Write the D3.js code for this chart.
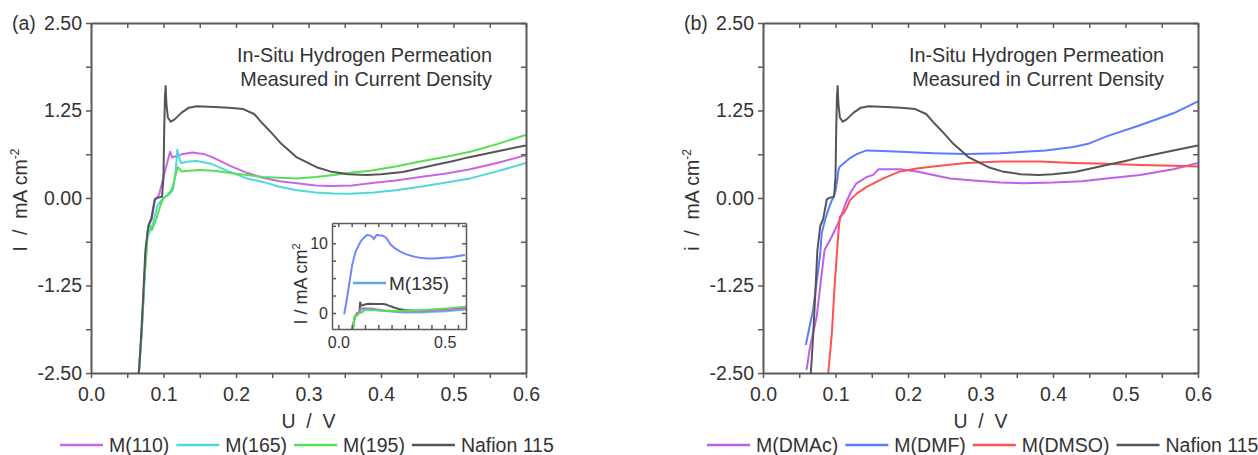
<!DOCTYPE html>
<html>
<head>
<meta charset="utf-8">
<script src="https://cdn.jsdelivr.net/npm/d3@7"></script>
<style>
  body { margin: 0; background: #fff; }
  svg text { font-family: "Liberation Sans", Arial, sans-serif; fill: #333; }
</style>
</head>
<body>
<div id="chart"></div>
<script>
// ---- data ----
const xTickValues = [0, 0.1, 0.2, 0.3, 0.4, 0.5, 0.6];
const xTickLabels = ["0.0", "0.1", "0.2", "0.3", "0.4", "0.5", "0.6"];
const yTickValues = [-2.5, -1.25, 0, 1.25, 2.5];
const yTickLabels = ["-2.50", "-1.25", "0.00", "1.25", "2.50"];
const insetXTickValues = [0, 0.5];
const insetXTickLabels = ["0.0", "0.5"];
const insetYTickValues = [0, 10];
const insetYTickLabels = ["0", "10"];

const nafion115 = [[0.066,-2.5],[0.069,-2.0],[0.072,-1.4],[0.075,-0.75],[0.079,-0.4],[0.083,-0.3],[0.088,-0.02],
  [0.091,0.0],[0.098,0.02],[0.100,0.3],[0.101,1.0],[0.102,1.45],[0.103,1.6],[0.104,1.35],[0.106,1.15],[0.110,1.09],
  [0.115,1.12],[0.125,1.22],[0.135,1.29],[0.146,1.31],[0.17,1.30],[0.19,1.29],[0.21,1.27],[0.225,1.2],[0.237,1.06],
  [0.25,0.92],[0.261,0.79],[0.284,0.58],[0.311,0.44],[0.33,0.38],[0.355,0.34],[0.38,0.33],[0.40,0.34],[0.43,0.37],
  [0.474,0.47],[0.5,0.53],[0.52,0.58],[0.566,0.68],[0.6,0.75]];

const m110 = [[0.066,-2.5],[0.070,-1.9],[0.074,-1.1],[0.078,-0.5],[0.080,-0.38],[0.084,-0.3],[0.088,-0.03],
  [0.094,0.05],[0.100,0.30],[0.105,0.50],[0.109,0.66],[0.112,0.58],[0.118,0.60],[0.127,0.63],[0.140,0.65],
  [0.155,0.63],[0.168,0.58],[0.192,0.46],[0.215,0.36],[0.237,0.29],[0.26,0.24],[0.284,0.21],[0.31,0.18],
  [0.33,0.17],[0.36,0.18],[0.385,0.21],[0.42,0.25],[0.454,0.30],[0.49,0.35],[0.523,0.41],[0.56,0.50],[0.60,0.61]];

const m165 = [[0.066,-2.5],[0.070,-1.9],[0.074,-1.1],[0.078,-0.55],[0.082,-0.45],[0.086,-0.35],[0.092,-0.1],
  [0.100,0.0],[0.108,0.05],[0.113,0.12],[0.117,0.4],[0.119,0.69],[0.121,0.6],[0.124,0.5],[0.135,0.52],[0.146,0.53],
  [0.165,0.49],[0.19,0.38],[0.215,0.28],[0.237,0.23],[0.26,0.16],[0.284,0.11],[0.31,0.08],[0.335,0.065],
  [0.357,0.06],[0.39,0.08],[0.42,0.11],[0.454,0.16],[0.49,0.22],[0.523,0.28],[0.56,0.38],[0.60,0.50]];

const m195 = [[0.066,-2.5],[0.070,-1.9],[0.074,-1.1],[0.078,-0.5],[0.080,-0.38],[0.084,-0.46],[0.090,-0.3],
  [0.096,-0.1],[0.100,0.0],[0.106,0.05],[0.110,0.1],[0.113,0.16],[0.116,0.3],[0.120,0.44],[0.125,0.38],[0.135,0.39],
  [0.15,0.40],[0.17,0.39],[0.19,0.36],[0.215,0.33],[0.237,0.30],[0.26,0.29],[0.284,0.28],[0.31,0.30],[0.335,0.33],
  [0.357,0.36],[0.385,0.39],[0.42,0.45],[0.454,0.52],[0.49,0.59],[0.523,0.66],[0.56,0.77],[0.60,0.90]];

const m135 = [[0.027,-0.2],[0.04,2.0],[0.05,4.0],[0.065,6.9],[0.081,8.8],[0.104,10.2],[0.12,10.8],[0.136,11.2],
  [0.15,11.1],[0.159,10.9],[0.167,10.6],[0.175,11.0],[0.182,11.2],[0.195,11.1],[0.206,11.1],[0.22,10.9],[0.229,10.6],
  [0.245,9.8],[0.265,9.3],[0.291,8.8],[0.32,8.4],[0.354,8.1],[0.385,7.9],[0.416,7.8],[0.45,7.8],[0.494,7.9],
  [0.53,8.0],[0.572,8.2],[0.595,8.3]];

const mDMAc = [[0.060,-2.46],[0.065,-2.12],[0.074,-1.7],[0.081,-1.08],[0.085,-0.74],[0.095,-0.55],[0.106,-0.31],
  [0.115,-0.05],[0.122,0.1],[0.129,0.21],[0.143,0.30],[0.152,0.33],[0.159,0.41],[0.189,0.41],[0.212,0.38],
  [0.235,0.33],[0.258,0.28],[0.29,0.25],[0.327,0.22],[0.36,0.21],[0.40,0.22],[0.44,0.24],[0.474,0.28],[0.52,0.33],
  [0.566,0.41],[0.60,0.50]];

const mDMF = [[0.059,-2.1],[0.064,-1.85],[0.069,-1.6],[0.074,-1.2],[0.079,-0.79],[0.081,-0.5],[0.086,-0.3],
  [0.090,-0.17],[0.095,-0.03],[0.097,0.0],[0.100,0.1],[0.103,0.3],[0.104,0.4],[0.106,0.45],[0.112,0.5],[0.120,0.57],
  [0.13,0.63],[0.143,0.68],[0.165,0.67],[0.189,0.66],[0.235,0.64],[0.281,0.63],[0.327,0.64],[0.36,0.66],[0.39,0.68],
  [0.428,0.73],[0.45,0.78],[0.474,0.88],[0.52,1.04],[0.566,1.21],[0.60,1.38]];

const mDMSO = [[0.090,-2.5],[0.095,-1.93],[0.099,-1.22],[0.104,-0.5],[0.106,-0.27],[0.111,-0.22],[0.115,-0.15],
  [0.120,-0.03],[0.13,0.07],[0.143,0.16],[0.166,0.28],[0.189,0.38],[0.212,0.42],[0.235,0.45],[0.26,0.48],
  [0.281,0.50],[0.327,0.52],[0.382,0.52],[0.428,0.50],[0.474,0.49],[0.52,0.47],[0.566,0.46],[0.60,0.45]];

const seriesA = [
  { name: "M(110)", color: "#c866ea", values: m110 },
  { name: "M(165)", color: "#4fd8dc", values: m165 },
  { name: "M(195)", color: "#55e055", values: m195 },
  { name: "Nafion 115", color: "#555555", values: nafion115 }
];
const seriesB = [
  { name: "M(DMAc)", color: "#c060ea", values: mDMAc },
  { name: "M(DMF)", color: "#5c7dff", values: mDMF },
  { name: "M(DMSO)", color: "#ff5252", values: mDMSO },
  { name: "Nafion 115", color: "#555555", values: nafion115 }
];

// ---- layout ----
const W = 1258, H = 455;
const plotTop = 23, plotBottom = 373, plotW = 435;
const axisColor = "#5a5a5a";

const svg = d3.select("#chart").append("svg")
  .attr("width", W)
  .attr("height", H);

function styleAxis(g) {
  g.select(".domain").attr("stroke", axisColor).attr("stroke-width", 2);
  g.selectAll(".tick line").attr("stroke", axisColor).attr("stroke-width", 1.5);
  g.selectAll(".tick text").attr("fill", "#333");
}

function drawPanel(p) {
  const x = d3.scaleLinear().domain([0, 0.6]).range([p.left, p.left + plotW]);
  const y = d3.scaleLinear().domain([-2.5, 2.5]).range([plotBottom, plotTop]);
  const g = svg.append("g");

  g.append("clipPath").attr("id", "clip" + p.tag)
    .append("rect")
    .attr("x", p.left).attr("y", plotTop)
    .attr("width", plotW).attr("height", plotBottom - plotTop);

  const line = d3.line().x(d => x(d[0])).y(d => y(d[1]));
  p.series.forEach(s => {
    g.append("path")
      .datum(s.values)
      .attr("d", line)
      .attr("fill", "none")
      .attr("stroke", s.color)
      .attr("stroke-width", 2)
      .attr("stroke-linejoin", "round")
      .attr("clip-path", "url(#clip" + p.tag + ")");
  });

  const xMinor = d3.range(0, 0.6001, 0.05);
  const yMinor = d3.range(-2.5, 2.5001, 0.625);
  const fmtX = d => {
    const i = xTickValues.findIndex(v => Math.abs(v - d) < 1e-6);
    return i >= 0 ? xTickLabels[i] : "";
  };
  const fmtY = d => {
    const i = yTickValues.findIndex(v => Math.abs(v - d) < 1e-6);
    return i >= 0 ? yTickLabels[i] : "";
  };

  // bottom
  g.append("g")
    .attr("transform", "translate(0," + plotBottom + ")")
    .call(d3.axisBottom(x).tickValues(xMinor).tickSize(5).tickSizeOuter(0).tickPadding(9).tickFormat(fmtX))
    .attr("font-size", 19.5).attr("font-family", null)
    .call(styleAxis);
  // top
  g.append("g")
    .attr("transform", "translate(0," + plotTop + ")")
    .call(d3.axisTop(x).tickValues(xMinor).tickSize(-5).tickSizeOuter(0).tickFormat(""))
    .call(styleAxis);
  // left
  g.append("g")
    .attr("transform", "translate(" + p.left + ",0)")
    .call(d3.axisLeft(y).tickValues(yMinor).tickSize(5).tickSizeOuter(0).tickPadding(4).tickFormat(fmtY))
    .attr("font-size", 19.5).attr("font-family", null)
    .call(styleAxis);
  // right
  g.append("g")
    .attr("transform", "translate(" + (p.left + plotW) + ",0)")
    .call(d3.axisRight(y).tickValues(yMinor).tickSize(-5).tickSizeOuter(0).tickFormat(""))
    .call(styleAxis);

  // panel tag
  g.append("text")
    .attr("x", p.left - 79).attr("y", 30)
    .attr("font-size", 19.5)
    .text(p.label);

  // annotation
  const ann = g.append("text")
    .attr("text-anchor", "end")
    .attr("font-size", 19.8);
  ann.append("tspan").attr("x", p.left + plotW - 34).attr("y", 62).text("In-Situ Hydrogen Permeation");
  ann.append("tspan").attr("x", p.left + plotW - 34).attr("y", 86).text("Measured in Current Density");

  // axis titles
  g.append("text")
    .attr("x", p.left + plotW / 2).attr("y", 428)
    .attr("text-anchor", "middle")
    .attr("font-size", 19.5)
    .attr("xml:space", "preserve")
    .text("U  /  V");

  const yt = g.append("text")
    .attr("transform", "translate(" + (p.left - 64) + ",200) rotate(-90)")
    .attr("text-anchor", "middle")
    .attr("font-size", 19.5)
    .attr("xml:space", "preserve");
  yt.append("tspan").text(p.yTitle + "  /  mA cm");
  yt.append("tspan").attr("font-size", 12).attr("dy", -8).text("-2");

  // legend
  let lx = p.legendStart;
  p.series.forEach(s => {
    g.append("line")
      .attr("x1", lx).attr("x2", lx + 43)
      .attr("y1", 445).attr("y2", 445)
      .attr("stroke", s.color).attr("stroke-width", 2.5);
    const t = g.append("text")
      .attr("x", lx + 49).attr("y", 452)
      .attr("font-size", 19.5)
      .text(s.name);
    lx += 49 + t.node().getComputedTextLength() + 7;
  });

  return { x, y, g };
}

drawPanel({ tag: "a", label: "(a)", left: 91, series: seriesA, yTitle: "I", legendStart: 60 });
drawPanel({ tag: "b", label: "(b)", left: 763, series: seriesB, yTitle: "i", legendStart: 707 });

// ---- inset in panel (a) ----
const ix0 = 332, ix1 = 466, iy0 = 223, iy1 = 329;
const ix = d3.scaleLinear().domain([-0.03, 0.6]).range([ix0, ix1]);
const iy = d3.scaleLinear().domain([-2.3, 12.9]).range([iy1, iy0]);
const ig = svg.append("g");

ig.append("rect")
  .attr("x", ix0).attr("y", iy0)
  .attr("width", ix1 - ix0).attr("height", iy1 - iy0)
  .attr("fill", "#fff");

ig.append("clipPath").attr("id", "clipInset")
  .append("rect")
  .attr("x", ix0).attr("y", iy0)
  .attr("width", ix1 - ix0).attr("height", iy1 - iy0);

const iline = d3.line().x(d => ix(d[0])).y(d => iy(d[1]));
const insetSeries = [
  { color: "#555555", values: nafion115 },
  { color: "#4fd8dc", values: m165 },
  { color: "#c866ea", values: m110 },
  { color: "#55e055", values: m195 },
  { color: "#7088ff", values: m135 }
];
insetSeries.forEach(s => {
  ig.append("path")
    .datum(s.values)
    .attr("d", iline)
    .attr("fill", "none")
    .attr("stroke", s.color)
    .attr("stroke-width", 2)
    .attr("clip-path", "url(#clipInset)");
});

const ixMinor = d3.range(0, 0.6, 0.0625);
const iyMinor = d3.range(-2.5, 12.6, 2.5).filter(v => v >= -2.3);
const fmtIX = d => {
  const i = insetXTickValues.findIndex(v => Math.abs(v - d) < 1e-6);
  return i >= 0 ? insetXTickLabels[i] : "";
};
const fmtIY = d => {
  const i = insetYTickValues.findIndex(v => Math.abs(v - d) < 1e-6);
  return i >= 0 ? insetYTickLabels[i] : "";
};
ig.append("g").attr("transform", "translate(0," + iy1 + ")")
  .call(d3.axisBottom(ix).tickValues(ixMinor).tickSize(-4).tickSizeOuter(0).tickPadding(8).tickFormat(fmtIX))
  .attr("font-size", 16).attr("font-family", null)
  .call(styleAxis);
ig.append("g").attr("transform", "translate(0," + iy0 + ")")
  .call(d3.axisTop(ix).tickValues(ixMinor).tickSize(-4).tickSizeOuter(0).tickFormat(""))
  .call(styleAxis);
ig.append("g").attr("transform", "translate(" + ix0 + ",0)")
  .call(d3.axisLeft(iy).tickValues(iyMinor).tickSize(-4).tickSizeOuter(0).tickPadding(4).tickFormat(fmtIY))
  .attr("font-size", 16).attr("font-family", null)
  .call(styleAxis);
ig.append("g").attr("transform", "translate(" + ix1 + ",0)")
  .call(d3.axisRight(iy).tickValues(iyMinor).tickSize(-4).tickSizeOuter(0).tickFormat(""))
  .call(styleAxis);
ig.selectAll(".domain").attr("stroke-width", 1.5);

const iyt = ig.append("text")
  .attr("transform", "translate(307,284) rotate(-90)")
  .attr("text-anchor", "middle")
  .attr("font-size", 18)
  .attr("xml:space", "preserve")
  .attr("fill", "#222");
iyt.append("tspan").text("I / mA cm");
iyt.append("tspan").attr("font-size", 11).attr("dy", -7).text("2");

ig.append("line")
  .attr("x1", 353).attr("x2", 386)
  .attr("y1", 283).attr("y2", 283)
  .attr("stroke", "#62a6e8").attr("stroke-width", 2.5);
ig.append("text")
  .attr("x", 389).attr("y", 290)
  .attr("font-size", 19)
  .text("M(135)");
</script>
</body>
</html>
